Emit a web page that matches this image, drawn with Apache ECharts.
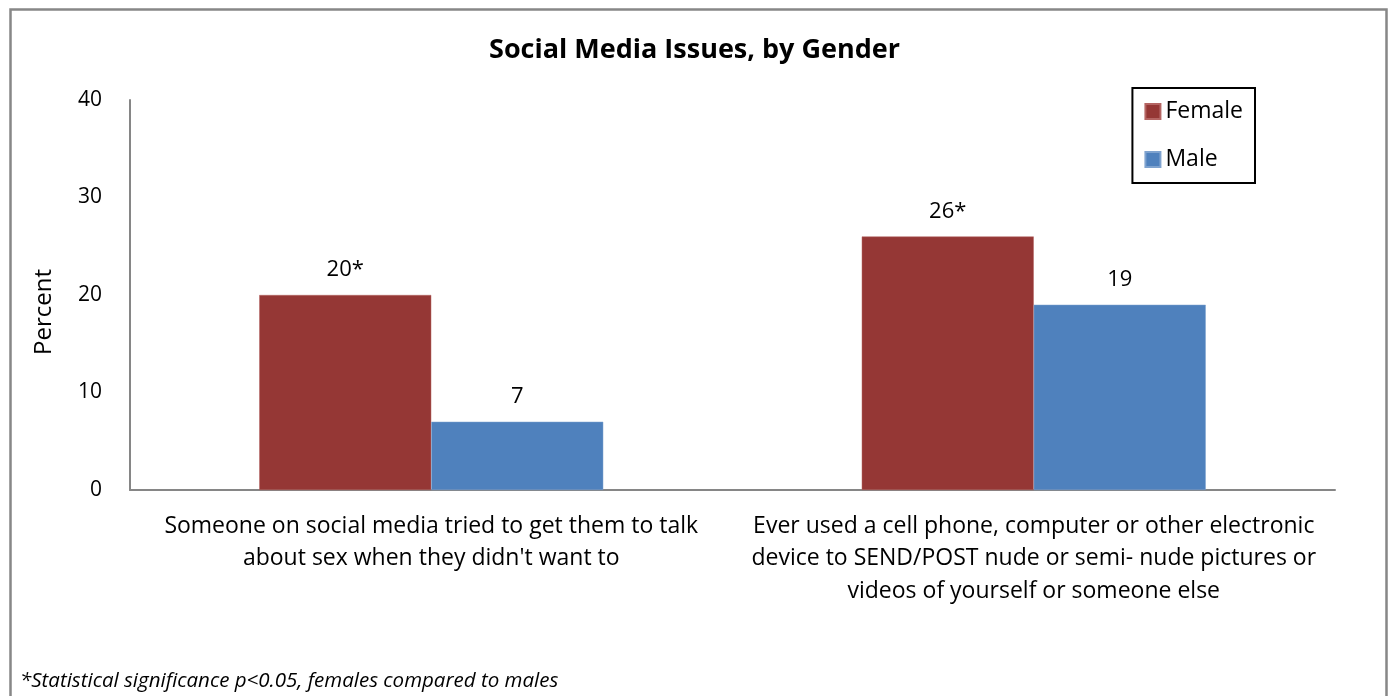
<!DOCTYPE html>
<html>
<head>
<meta charset="utf-8">
<script src="https://cdn.jsdelivr.net/npm/echarts@6/dist/echarts.min.js"></script>
<style>
  html, body { margin: 0; padding: 0; background: #ffffff; }
  #chart { width: 1389px; height: 696px; }
</style>
</head>
<body>
<div id="chart"></div>
<script>
// Survey items (x-axis categories, pre-wrapped as printed)
const categories = [
  "Someone on social media tried to get them to talk\nabout sex when they didn't want to",
  "Ever used a cell phone, computer or other electronic\ndevice to SEND/POST nude or semi- nude pictures or\nvideos of yourself or someone else"
];
const femaleValues = [20, 26];
const maleValues = [7, 19];
// Significance markers appended to value labels
const femaleMarks = ["*", "*"];
const maleMarks = ["", ""];
const yTicks = [0, 10, 20, 30, 40];

const FONT = "'Open Sans', sans-serif";
const chart = echarts.init(document.getElementById('chart'), null, { renderer: 'canvas' });

chart.setOption({
  backgroundColor: '#ffffff',
  animation: false,
  title: {
    text: 'Social Media Issues, by Gender',
    left: 'center',
    top: 32,
    textStyle: { fontFamily: FONT, fontSize: 27, fontWeight: 'bold', color: '#000' }
  },
  legend: {
    orient: 'vertical',
    right: 134,
    top: 88,
    padding: [12, 12, 12, 12],
    borderColor: '#000',
    borderWidth: 2,
    itemWidth: 15,
    itemHeight: 15,
    itemGap: 25,
    icon: 'rect',
    textStyle: { fontFamily: FONT, fontSize: 23, color: '#000' },
    data: ['Female', 'Male']
  },
  grid: { left: 130, right: 54, top: 100, bottom: 206 },
  xAxis: {
    type: 'category',
    data: categories,
    axisLine: { lineStyle: { color: '#868686', width: 2 } },
    axisTick: { show: false },
    axisLabel: {
      interval: 0,
      margin: 20,
      fontFamily: FONT,
      fontSize: 23,
      lineHeight: 32.5,
      color: '#000',
      align: 'center'
    }
  },
  yAxis: {
    type: 'value',
    min: yTicks[0],
    max: yTicks[yTicks.length - 1],
    interval: 10,
    name: 'Percent',
    nameLocation: 'middle',
    nameGap: 74,
    nameRotate: 90,
    nameTextStyle: { fontFamily: FONT, fontSize: 24, color: '#000', padding: [0, 0, 0, -34] },
    axisLine: { show: true, lineStyle: { color: '#868686', width: 2 } },
    axisTick: { show: false },
    splitLine: { show: false },
    axisLabel: { fontFamily: FONT, fontSize: 21, color: '#000', margin: 28 }
  },
  series: [
    {
      name: 'Female',
      type: 'bar',
      data: femaleValues,
      barWidth: 172,
      barGap: '0%',
      itemStyle: { color: '#953735', borderColor: '#b56563', borderWidth: 0.5 },
      label: {
        show: true,
        position: 'top',
        distance: 14,
        fontFamily: FONT,
        fontSize: 22,
        color: '#000',
        formatter: p => p.value + femaleMarks[p.dataIndex]
      }
    },
    {
      name: 'Male',
      type: 'bar',
      data: maleValues,
      barWidth: 172,
      barGap: '0%',
      itemStyle: { color: '#4f81bd', borderColor: '#7fa3cf', borderWidth: 0.5 },
      label: {
        show: true,
        position: 'top',
        distance: 14,
        fontFamily: FONT,
        fontSize: 22,
        color: '#000',
        formatter: p => p.value + maleMarks[p.dataIndex]
      }
    }
  ],
  graphic: [
    {
      type: 'rect',
      left: 8, top: 7,
      shape: { width: 1376, height: 700 },
      style: { fill: 'none', stroke: '#878787', lineWidth: 2.5 },
      silent: true
    },
    {
      type: 'text',
      left: 20,
      top: 671,
      style: {
        text: '*Statistical significance p<0.05, females compared to males',
        fontFamily: FONT,
        fontSize: 20.5,
        fontStyle: 'italic',
        fill: '#000'
      }
    }
  ]
});
</script>
</body>
</html>
